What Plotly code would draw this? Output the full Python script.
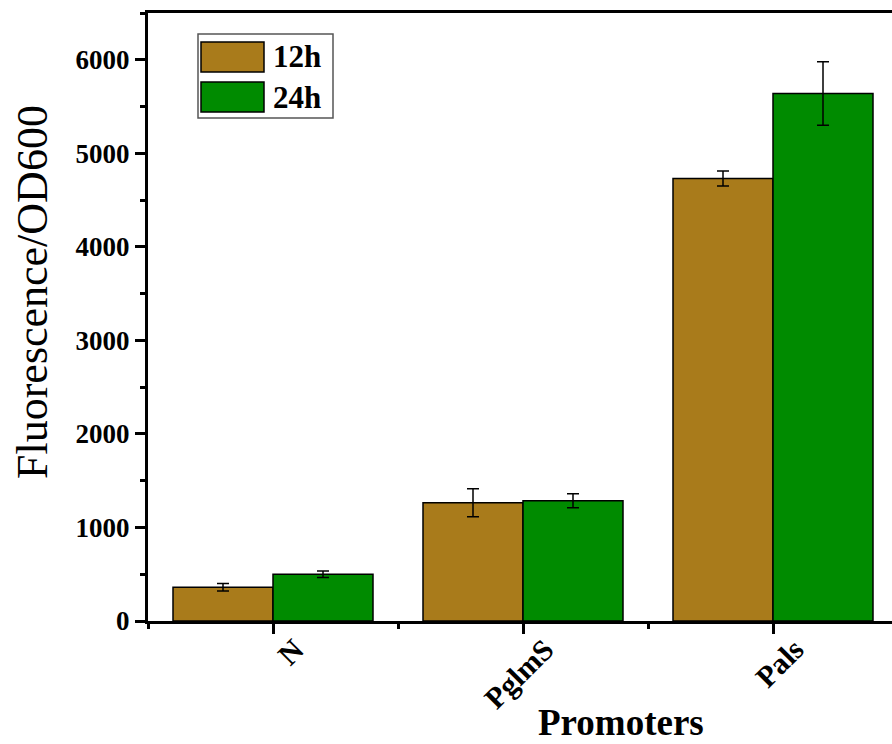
import plotly.graph_objects as go

categories = ["N", "PglmS", "Pals"]
series_names = ["12h", "24h"]
values_12h = [360, 1265, 4730]
errors_12h = [40, 150, 80]
values_24h = [500, 1285, 5640]
errors_24h = [35, 75, 340]
y_ticks = [0, 1000, 2000, 3000, 4000, 5000, 6000]

colors = ["#A97B1B", "#008B00"]
FONT = "Liberation Serif"

x_pos = list(range(len(categories)))

fig = go.Figure()
for name, vals, errs, col in zip(series_names, [values_12h, values_24h],
                                 [errors_12h, errors_24h], colors):
    fig.add_trace(go.Bar(
        x=x_pos, y=vals, name=name,
        marker=dict(color=col, line=dict(color="black", width=1.5)),
        error_y=dict(type="data", array=errs, visible=True,
                     color="black", thickness=1.5, width=6),
        showlegend=False,
    ))

fig.update_layout(
    width=892, height=744,
    margin=dict(l=148, r=0, t=13, b=123),
    paper_bgcolor="white", plot_bgcolor="white",
    barmode="group", bargap=0.2, bargroupgap=0,
    font=dict(family=FONT, color="black"),
)

fig.update_xaxes(
    range=[-0.5, 2.476],
    tickvals=x_pos, ticktext=categories, tickangle=-45,
    tickfont=dict(family=FONT, size=30, color="black", weight="bold"),
    ticklabelshift=22, ticklabelstandoff=-14,
    showline=True, linecolor="black", linewidth=3, mirror=True,
    ticks="outside", ticklen=10, tickwidth=3, tickcolor="black",
    minor=dict(ticks="outside", ticklen=5, tickwidth=3, tickcolor="black",
               tick0=0.5, dtick=1),
    showgrid=False, zeroline=False,
)
fig.update_yaxes(
    range=[0, 6500],
    tickvals=y_ticks, ticktext=[str(v) for v in y_ticks],
    tickfont=dict(family=FONT, size=27, color="black", weight="bold"),
    showline=True, linecolor="black", linewidth=3, mirror=False,
    ticks="outside", ticklen=10, tickwidth=3, tickcolor="black",
    minor=dict(ticks="outside", ticklen=5, tickwidth=3, tickcolor="black",
               tick0=500, dtick=1000),
    showgrid=False, zeroline=False,
)

def px_x(px):
    return (px - 148) / 744

def px_y(py):
    return (621 - py) / 608

# axis titles
fig.add_annotation(
    text="Fluorescence/OD600", xref="paper", yref="paper",
    x=px_x(32), y=px_y(292), textangle=-90,
    showarrow=False, xanchor="center", yanchor="middle",
    font=dict(family=FONT, size=44, color="black"),
)
fig.add_annotation(
    text="<b>Promoters</b>", xref="paper", yref="paper",
    x=px_x(621), y=px_y(723),
    showarrow=False, xanchor="center", yanchor="middle",
    font=dict(family=FONT, size=37, color="black"),
)

# custom legend (large swatches)
fig.add_shape(type="rect", xref="paper", yref="paper",
              x0=px_x(198), x1=px_x(333), y0=px_y(118), y1=px_y(34),
              line=dict(color="#555555", width=1.5), fillcolor="white")
for i, (name, col) in enumerate(zip(series_names, colors)):
    top = 42 + i * 40
    fig.add_shape(type="rect", xref="paper", yref="paper",
                  x0=px_x(201), x1=px_x(264), y0=px_y(top + 30), y1=px_y(top),
                  line=dict(color="black", width=1.5), fillcolor=col)
    fig.add_annotation(text="<b>" + name + "</b>", xref="paper", yref="paper",
                       x=px_x(271), y=px_y(top + 15), showarrow=False,
                       xanchor="left", yanchor="middle",
                       font=dict(family=FONT, size=31, color="black"))

fig.write_html("out.html", config={"displayModeBar": False})

# remove default body margin so the figure sits at the page origin
with open("out.html", "r", encoding="utf-8") as f:
    html = f.read()
html = html.replace("<body>", '<body style="margin:0;padding:0;">', 1)
with open("out.html", "w", encoding="utf-8") as f:
    f.write(html)
